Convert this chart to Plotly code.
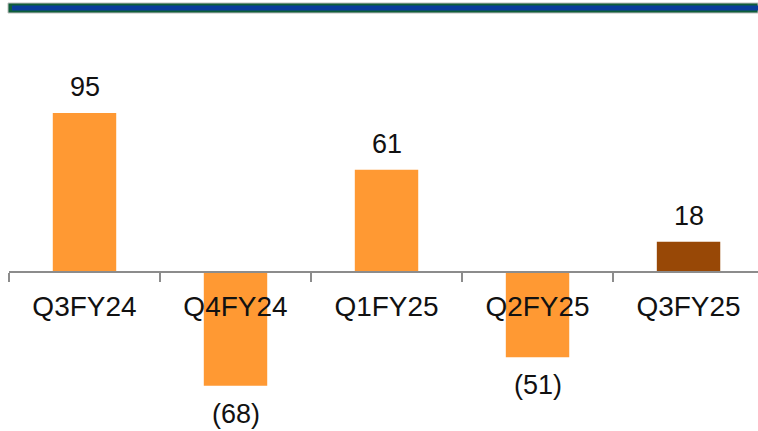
import plotly.graph_objects as go

categories = ["Q3FY24", "Q4FY24", "Q1FY25", "Q2FY25", "Q3FY25"]
values = [95, -68, 61, -51, 18]
value_labels = ["95", "(68)", "61", "(51)", "18"]
bar_colors = ["#FF9933", "#FF9933", "#FF9933", "#FF9933", "#984806"]

W, H = 758, 431
plot_left, plot_top = 9, 20
y_range = [-95, 150.5]
zero_pos = (0 - y_range[0]) / (y_range[1] - y_range[0])

font_family = "Liberation Sans, Arial, sans-serif"
FS = 27

fig = go.Figure()
fig.add_trace(go.Bar(
    x=categories, y=values, marker=dict(color=bar_colors, line=dict(width=0)),
    width=0.42, showlegend=False, hoverinfo="skip",
))

for c, v, t in zip(categories, values, value_labels):
    fig.add_annotation(
        x=c, y=v, xref="x", yref="y", text=t, showarrow=False,
        yanchor="bottom" if v >= 0 else "top",
        yshift=9 if v >= 0 else -11,
        font=dict(size=FS, color="#111111", family=font_family),
    )

# top band
fig.add_shape(type="rect", xref="paper", yref="paper",
              x0=8 / W, x1=1.0, y0=1 - 13 / H, y1=1 - 3 / H,
              fillcolor="#0F5E3A", line=dict(color="#BFBFBF", width=1), layer="above")
fig.add_shape(type="rect", xref="paper", yref="paper",
              x0=12 / W, x1=1.0, y0=1 - 10.5 / H, y1=1 - 5.5 / H,
              fillcolor="#0A3D9C", line=dict(width=0), layer="above")

fig.update_layout(
    width=W, height=H,
    margin=dict(l=0, r=0, t=0, b=0),
    paper_bgcolor="white", plot_bgcolor="white",
    xaxis=dict(
        domain=[plot_left / W, 1.0],
        range=[-0.5, 4.46],
        anchor="free", position=zero_pos * (1 - plot_top / H),
        showline=True, linecolor="#8C8C8C", linewidth=1.5,
        ticks="outside", ticklen=9, tickwidth=1.5, tickcolor="#8C8C8C",
        tickson="boundaries", showgrid=False, zeroline=False,
        tickfont=dict(size=28, color="#111111", family=font_family),
        ticklabelstandoff=10,
    ),
    yaxis=dict(
        domain=[0, 1 - plot_top / H],
        range=y_range, visible=False, showgrid=False, zeroline=False,
    ),
)

fig.write_html(
    "out.html",
    config={"displayModeBar": False},
    post_script="document.body.style.margin='0';document.body.style.overflow='hidden';",
)
